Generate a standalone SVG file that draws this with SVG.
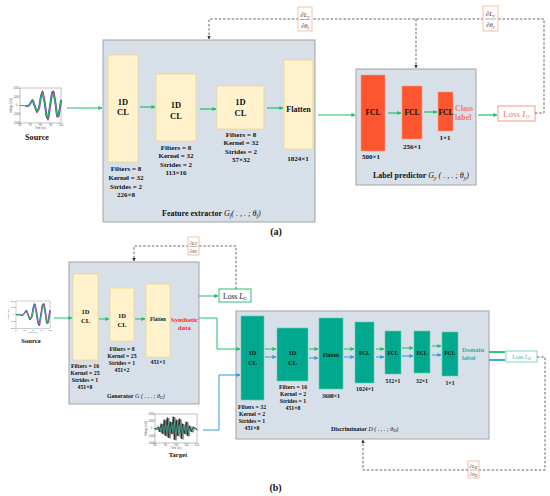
<svg xmlns="http://www.w3.org/2000/svg" xmlns:xlink="http://www.w3.org/1999/xlink" width="550" height="496" viewBox="0 0 550 496">
<style>
.t{font-family:"Liberation Serif","Times New Roman",serif;font-weight:bold;fill:#111;text-anchor:middle}
.s{text-anchor:start}
.m{font-style:italic;font-weight:normal}
.panel{fill:#d7dfe8;stroke:#a3a3a3;stroke-width:1}
.cl{fill:#fff2cc;stroke:#f0d48a;stroke-width:0.8}
.fcl{fill:#fc5530;stroke:#ff9a80;stroke-width:0.6}
.tl{fill:#00a88e;stroke:#66cbbb;stroke-width:0.6}
.g{stroke:#1dbf6a;fill:none}
.b{stroke:#2f9be0;fill:none}
.d{stroke:#555;fill:none;stroke-width:0.9;stroke-dasharray:2.5,1.8}
.fr{fill:#fff;stroke:#f4b08a;stroke-width:0.8}
.ft{font-family:"Liberation Serif","Times New Roman",serif;font-style:italic;fill:#333;text-anchor:middle}
.tk{font-family:"Liberation Sans",Arial,sans-serif;fill:#555;font-size:2.6px;text-anchor:middle}
.ax{fill:#fff;stroke:#666;stroke-width:0.4}
</style>
<defs>
<marker id="ag" viewBox="0 0 10 10" refX="9" refY="5" markerWidth="4" markerHeight="4" orient="auto" markerUnits="userSpaceOnUse"><path d="M0,0L10,5L0,10z" fill="#1dbf6a"/></marker>
<marker id="ab" viewBox="0 0 10 10" refX="9" refY="5" markerWidth="4" markerHeight="4" orient="auto" markerUnits="userSpaceOnUse"><path d="M0,0L10,5L0,10z" fill="#2f9be0"/></marker>
<marker id="ak" viewBox="0 0 10 10" refX="9" refY="5" markerWidth="3.5" markerHeight="3.5" orient="auto" markerUnits="userSpaceOnUse"><path d="M0,0L10,5L0,10z" fill="#333"/></marker>
<polyline id="sw" fill="none" stroke-linejoin="round" stroke-width="1.1" points="0,17.5 5,17.5 8,18.5 10.5,15 12.5,12 15,19 17,24 19,20 21,8 22.5,4 24.5,14 26.5,28 28,31 30,18 32,5 33.5,4 35.5,16 37,28 38.5,28 40,19 41,12"/>
<g id="srcplot">
<rect class="ax" x="0" y="0" width="41" height="35"/>
<use xlink:href="#sw" stroke="#9b30d0" transform="translate(0.6,0)"/>
<use xlink:href="#sw" stroke="#ff3050" transform="translate(0,17.5) scale(1,1.08) translate(0,-17.5)"/>
<use xlink:href="#sw" stroke="#3050ff" transform="translate(-0.4,0)"/>
<use xlink:href="#sw" stroke="#22c040" transform="translate(0,17.5) scale(1,0.92) translate(0,-17.5)"/>
<text class="tk" x="-3.5" y="1">2000</text><text class="tk" x="-3.5" y="9.5">1000</text><text class="tk" x="-3.5" y="18.3">0</text><text class="tk" x="-3.5" y="27">-1000</text><text class="tk" x="-3.5" y="35.5">-2000</text>
<text class="tk" x="0" y="38.2">60</text><text class="tk" x="10.25" y="38.2">70</text><text class="tk" x="20.5" y="38.2">80</text><text class="tk" x="30.75" y="38.2">90</text><text class="tk" x="41" y="38.2">100</text>
<text class="tk" x="20.5" y="41.2">Time (us)</text>
<text class="tk" transform="translate(-8.5,17.5) rotate(-90)">Voltage (mV)</text>
</g>
<polyline id="tw" fill="none" stroke-linejoin="round" stroke-width="0.8" points="0,15 2,15 4,13 5,18 7,10 8,20 10,6 11,22 13,4 14,24 16,8 17,20 19,3 20,26 22,6 23,22 25,5 27,25 28,10 30,20 32,8 33,22 35,12 37,18 39,13 42,16"/>
<g id="tgtplot">
<rect class="ax" x="0" y="0" width="42" height="29"/>
<use xlink:href="#tw" stroke="#333"/>
<use xlink:href="#tw" stroke="#777" transform="translate(1,0.5)"/>
<use xlink:href="#tw" stroke="#222" transform="translate(-0.8,-0.4)"/>
<use xlink:href="#tw" stroke="#20b89a" stroke-width="1" transform="translate(0.5,14.5) scale(1,0.55) translate(0,-14.5)"/>
<text class="tk" x="-3.5" y="1">2000</text><text class="tk" x="-3.5" y="8">1000</text><text class="tk" x="-3.5" y="15.3">0</text><text class="tk" x="-3.5" y="22.5">-1000</text><text class="tk" x="-3.5" y="29.5">-2000</text>
<text class="tk" x="0" y="32.2">80</text><text class="tk" x="10.5" y="32.2">90</text><text class="tk" x="21" y="32.2">100</text><text class="tk" x="31.5" y="32.2">110</text><text class="tk" x="42" y="32.2">120</text>
<text class="tk" x="21" y="35.2">Time (us)</text>
<text class="tk" transform="translate(-8.5,14.5) rotate(-90)">Voltage (mV)</text>
</g>
</defs>
<rect width="550" height="496" fill="#fff"/>

<!-- (a) -->
<g id="source-a">
<use xlink:href="#srcplot" transform="translate(20,88)"/>
<text class="t" x="37" y="140" font-size="8.2">Source</text>
</g>
<g id="feature-extractor">
<rect class="panel" x="103" y="40" width="212" height="182"/>
<text class="t s" x="162" y="216" font-size="8">Feature extractor <tspan class="m">G<tspan font-size="5.5" dy="1.5">f</tspan><tspan dy="-1.5">( . , . ; θ</tspan><tspan font-size="5.5" dy="1.5">f</tspan><tspan dy="-1.5">)</tspan></tspan></text>
</g>
<g id="fe-cl1">
<rect class="cl" x="108" y="55" width="30" height="107"/>
<text class="t" x="123" y="105" font-size="8.5">1D</text><text class="t" x="123" y="115" font-size="8.5">CL</text>
<text class="t" font-size="7" x="126" y="170.5">Filters = 8</text><text class="t" font-size="7" x="126" y="179.5">Kernel = 32</text><text class="t" font-size="7" x="126" y="188.5">Strides = 2</text><text class="t" font-size="7" x="126" y="196.5">226×8</text>
</g>
<g id="fe-cl2">
<rect class="cl" x="156" y="74" width="40" height="67"/>
<text class="t" x="176" y="108" font-size="8.5">1D</text><text class="t" x="176" y="119" font-size="8.5">CL</text>
<text class="t" font-size="7" x="176" y="149.5">Filters = 8</text><text class="t" font-size="7" x="176" y="158">Kernel = 32</text><text class="t" font-size="7" x="176" y="166.5">Strides = 2</text><text class="t" font-size="7" x="176" y="175">113×16</text>
</g>
<g id="fe-cl3">
<rect class="cl" x="217" y="86" width="47" height="43"/>
<text class="t" x="240.5" y="105" font-size="8.5">1D</text><text class="t" x="240.5" y="116" font-size="8.5">CL</text>
<text class="t" font-size="7" x="241" y="136.5">Filters = 8</text><text class="t" font-size="7" x="241" y="145">Kernel = 32</text><text class="t" font-size="7" x="241" y="153.5">Strides = 2</text><text class="t" font-size="7" x="241" y="162">57×32</text>
</g>
<g id="fe-flatten">
<rect class="cl" x="284" y="60" width="29" height="89"/>
<text class="t" x="298.5" y="112" font-size="8">Flatten</text>
<text class="t" x="298" y="160.5" font-size="7">1824×1</text>
</g>
<g id="label-predictor">
<rect class="panel" x="356" y="69" width="120" height="116"/>
<text class="t s" x="373" y="178" font-size="8">Label predictor <tspan class="m">G<tspan font-size="5.5" dy="1.5">y</tspan><tspan dy="-1.5"> ( . , . ; θ</tspan><tspan font-size="5.5" dy="1.5">y</tspan><tspan dy="-1.5">)</tspan></tspan></text>
</g>
<g id="lp-fcl1">
<rect class="fcl" x="361" y="75" width="24" height="76"/>
<text class="t" x="373" y="115" font-size="7.5">FCL</text>
<text class="t" x="371" y="158.5" font-size="7">500×1</text>
</g>
<g id="lp-fcl2">
<rect class="fcl" x="402" y="86" width="20" height="53"/>
<text class="t" x="412" y="115" font-size="7.5">FCL</text>
<text class="t" x="412" y="148.5" font-size="7">256×1</text>
</g>
<g id="lp-fcl3">
<rect class="fcl" x="438" y="92" width="15" height="39"/>
<text class="t" x="446" y="115" font-size="7.5">FCL</text>
<text class="t" x="445" y="139.5" font-size="7">1×1</text>
</g>
<g id="class-label">
<text class="t s" x="455" y="110.5" font-size="8" fill="#f47c64" style="fill:#f47c64">Class</text>
<text class="t s" x="455" y="119.5" font-size="8" style="fill:#f47c64">label</text>
</g>
<g id="loss-y">
<rect x="498" y="106" width="37" height="15" fill="#fff" stroke="#f79a86" stroke-width="1"/>
<text class="t" x="516.5" y="116.8" font-size="9" style="fill:#f47c64;font-weight:normal">Loss <tspan class="m">L</tspan><tspan class="m" font-size="6" dy="1.5">y</tspan></text>
</g>
<text class="t" x="276" y="235" font-size="10">(a)</text>

<!-- (b) -->
<g id="source-b">
<use xlink:href="#srcplot" transform="translate(16,301) scale(0.83,0.78)"/>
<text class="t" x="31" y="343" font-size="6.6">Source</text>
</g>
<g id="generator">
<rect class="panel" x="69" y="262" width="130" height="142"/>
<text class="t s" x="107" y="398" font-size="6">Generator <tspan class="m">G ( . , . ; θ<tspan font-size="4.2" dy="1">G</tspan><tspan dy="-1">)</tspan></tspan></text>
</g>
<g id="gen-cl1">
<rect class="cl" x="73" y="274" width="25" height="86"/>
<text class="t" x="85.5" y="314" font-size="6.5">1D</text><text class="t" x="85.5" y="323" font-size="6.5">CL</text>
<text class="t" font-size="5.8" x="85" y="368">Filters = 16</text><text class="t" font-size="5.8" x="85" y="375">Kernel = 25</text><text class="t" font-size="5.8" x="85" y="382">Strides = 1</text><text class="t" font-size="5.8" x="85" y="389">451×8</text>
</g>
<g id="gen-cl2">
<rect class="cl" x="110" y="288" width="24" height="53"/>
<text class="t" x="122" y="318" font-size="6.5">1D</text><text class="t" x="122" y="327" font-size="6.5">CL</text>
<text class="t" font-size="5.8" x="122" y="350.5">Filters = 8</text><text class="t" font-size="5.8" x="122" y="357.5">Kernel = 25</text><text class="t" font-size="5.8" x="122" y="364.5">Strides = 1</text><text class="t" font-size="5.8" x="122" y="371.5">451×2</text>
</g>
<g id="gen-flatten">
<rect class="cl" x="146" y="284" width="24" height="73"/>
<text class="t" x="158" y="321" font-size="5.2">Flatten</text>
<text class="t" x="158" y="364" font-size="5.8">451×1</text>
</g>
<g id="synthetic-data">
<text class="t" x="184.5" y="321.5" font-size="6.8" style="fill:#ff2a2a">Synthetic</text>
<text class="t" x="184.5" y="329.5" font-size="6.8" style="fill:#ff2a2a">data</text>
</g>
<g id="loss-g">
<rect x="219" y="289" width="32" height="13" fill="#fff" stroke="#2fbf6e" stroke-width="1"/>
<text class="t" x="235" y="298.5" font-size="7.5" style="font-weight:normal">Loss <tspan class="m">L</tspan><tspan class="m" font-size="5" dy="1">G</tspan></text>
</g>
<g id="target">
<use xlink:href="#tgtplot" transform="translate(155,414)"/>
<text class="t" x="178" y="457" font-size="6.6">Target</text>
</g>
<g id="discriminator">
<rect class="panel" x="236" y="311" width="253" height="128"/>
<text class="t s" x="331" y="431" font-size="6">Discriminator <tspan class="m">D ( . , . ; θ<tspan font-size="4.2" dy="1">D</tspan><tspan dy="-1">)</tspan></tspan></text>
</g>
<g id="d-cl1">
<rect class="tl" x="241" y="316" width="23" height="84"/>
<text class="t" x="252.5" y="355" font-size="6.5">1D</text><text class="t" x="252.5" y="364.5" font-size="6.5">CL</text>
<text class="t" font-size="5.8" x="252" y="409">Filters = 32</text><text class="t" font-size="5.8" x="252" y="416">Kernel = 2</text><text class="t" font-size="5.8" x="252" y="423">Strides = 1</text><text class="t" font-size="5.8" x="252" y="430">451×8</text>
</g>
<g id="d-cl2">
<rect class="tl" x="277" y="328" width="31" height="53"/>
<text class="t" x="292.5" y="355" font-size="6.5">1D</text><text class="t" x="292.5" y="364.5" font-size="6.5">CL</text>
<text class="t" font-size="5.8" x="293" y="389">Filters = 16</text><text class="t" font-size="5.8" x="293" y="396">Kernel = 2</text><text class="t" font-size="5.8" x="293" y="403">Strides = 1</text><text class="t" font-size="5.8" x="293" y="410">451×8</text>
</g>
<g id="d-flatten">
<rect class="tl" x="319" y="318" width="24" height="71"/>
<text class="t" x="331" y="357" font-size="5.2">Flatten</text>
<text class="t" x="331" y="398" font-size="5.8">3608×1</text>
</g>
<g id="d-fcl1">
<rect class="tl" x="355" y="322" width="19" height="61"/>
<text class="t" x="364.5" y="355" font-size="5.5">FCL</text>
<text class="t" x="365" y="391" font-size="5.8">1024×1</text>
</g>
<g id="d-fcl2">
<rect class="tl" x="385" y="331" width="16" height="43"/>
<text class="t" x="393" y="355" font-size="5.5">FCL</text>
<text class="t" x="393" y="383" font-size="5.8">512×1</text>
</g>
<g id="d-fcl3">
<rect class="tl" x="414" y="331" width="16" height="42"/>
<text class="t" x="422" y="355" font-size="5.5">FCL</text>
<text class="t" x="422" y="383" font-size="5.8">32×1</text>
</g>
<g id="d-fcl4">
<rect class="tl" x="442" y="332" width="16" height="44"/>
<text class="t" x="450" y="355" font-size="5.5">FCL</text>
<text class="t" x="450" y="385" font-size="5.8">1×1</text>
</g>
<g id="domain-label">
<text class="t s" x="462" y="352" font-size="6.5" style="fill:#2ab5a6">Domain</text>
<text class="t s" x="462" y="360" font-size="6.5" style="fill:#2ab5a6">label</text>
</g>
<g id="loss-d">
<rect x="506" y="351" width="31" height="11" fill="#fff" stroke="#7fd8cf" stroke-width="1"/>
<text class="t" x="521.5" y="358.6" font-size="5.8" style="fill:#2ab5a6;font-weight:normal">Loss <tspan class="m">L</tspan><tspan class="m" font-size="4" dy="1">D</tspan></text>
</g>
<text class="t" x="275.5" y="490.5" font-size="10">(b)</text>

<g id="connectors">
<g class="g" stroke-width="1.2" marker-end="url(#ag)">
<line x1="67" y1="108" x2="102" y2="108"/>
<line x1="140" y1="107" x2="155" y2="107"/>
<line x1="200" y1="109" x2="216" y2="109"/>
<line x1="267" y1="108" x2="283" y2="108"/>
<line x1="318" y1="115" x2="355" y2="115"/>
<line x1="388" y1="113" x2="401" y2="113"/>
<line x1="424" y1="112" x2="437" y2="112"/>
<line x1="478" y1="115" x2="497" y2="115"/>
</g>
<g class="g" stroke-width="1" marker-end="url(#ag)">
<line x1="54" y1="318" x2="72" y2="318"/>
<line x1="99" y1="319" x2="109" y2="319"/>
<line x1="135" y1="319" x2="145" y2="319"/>
<line x1="199" y1="296" x2="218" y2="296"/>
<path d="M199,318H217V349H240"/>
<line x1="265" y1="349" x2="276" y2="349"/>
<line x1="309" y1="349" x2="318" y2="349"/>
<line x1="344" y1="349" x2="354" y2="349"/>
<line x1="376" y1="349" x2="384" y2="349"/>
<line x1="402" y1="348" x2="413" y2="348"/>
<line x1="432" y1="346" x2="441" y2="346"/>
</g>
<g class="b" stroke-width="1" marker-end="url(#ab)">
<path d="M203,430H219V375H240"/>
<line x1="265" y1="357" x2="276" y2="357"/>
<line x1="309" y1="358" x2="318" y2="358"/>
<line x1="344" y1="357" x2="354" y2="357"/>
<line x1="376" y1="357" x2="384" y2="357"/>
<line x1="402" y1="356" x2="413" y2="356"/>
<line x1="432" y1="355" x2="441" y2="355"/>
</g>
<line class="g" x1="489" y1="352" x2="505" y2="352" stroke-width="1.8"/>
<line class="b" x1="489" y1="360" x2="505" y2="360" stroke-width="1.8"/>
<path class="d" d="M535,113H544V19H209V39" marker-end="url(#ak)"/>
<path class="d" d="M416,19V68" marker-end="url(#ak)"/>
<path class="d" d="M236,289V246H134V261" marker-end="url(#ak)"/>
<path class="d" d="M537,357H545V470H363V440" marker-end="url(#ak)"/>
</g>

<g id="grad-f">
<rect class="fr" x="298" y="7" width="14" height="24"/>
<text class="ft" x="305" y="16.5" font-size="6.5">∂L<tspan font-size="4.5" dy="1">y</tspan></text>
<line x1="300" y1="19.5" x2="310" y2="19.5" stroke="#333" stroke-width="0.4"/>
<text class="ft" x="305" y="27.5" font-size="6.5">∂θ<tspan font-size="4.5" dy="1">f</tspan></text>
</g>
<g id="grad-y">
<rect class="fr" x="483" y="6" width="15" height="25"/>
<text class="ft" x="490.5" y="15.5" font-size="6.5">∂L<tspan font-size="4.5" dy="1">y</tspan></text>
<line x1="485" y1="19" x2="496" y2="19" stroke="#333" stroke-width="0.4"/>
<text class="ft" x="490.5" y="27" font-size="6.5">∂θ<tspan font-size="4.5" dy="1">y</tspan></text>
</g>
<g id="grad-g">
<rect class="fr" x="188" y="237" width="11" height="18"/>
<text class="ft" x="193.5" y="244.5" font-size="5">∂L<tspan font-size="3.5" dy="0.8">G</tspan></text>
<line x1="189.5" y1="246.5" x2="197.5" y2="246.5" stroke="#333" stroke-width="0.35"/>
<text class="ft" x="193.5" y="252.5" font-size="5">∂θ<tspan font-size="3.5" dy="0.8">G</tspan></text>
</g>
<g id="grad-d">
<rect class="fr" x="468" y="461" width="11" height="17"/>
<text class="ft" x="473.5" y="468" font-size="5">∂L<tspan font-size="3.5" dy="0.8">D</tspan></text>
<line x1="469.5" y1="470" x2="477.5" y2="470" stroke="#333" stroke-width="0.35"/>
<text class="ft" x="473.5" y="476" font-size="5">∂θ<tspan font-size="3.5" dy="0.8">D</tspan></text>
</g>
</svg>
